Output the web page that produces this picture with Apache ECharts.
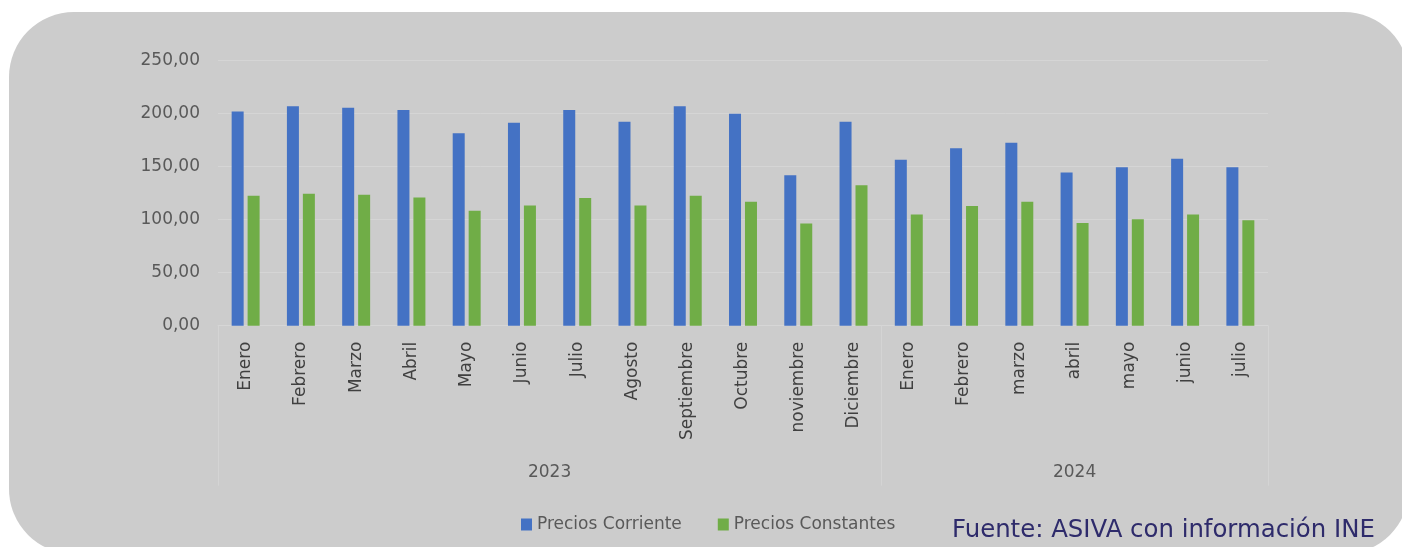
<!DOCTYPE html>
<html>
<head>
<meta charset="utf-8">
<script src="https://cdn.jsdelivr.net/npm/echarts@6/dist/echarts.min.js"></script>
<style>
  html, body { margin: 0; padding: 0; background: #ffffff; }
  #card { position: absolute; left: 9px; top: 12px; width: 1400px; height: 542px; border-radius: 65px; background: #cccccc; }
  #chart { position: absolute; left: 0; top: 0; width: 1402px; height: 547px; }
</style>
</head>
<body>
<div id="card"></div>
<div id="chart"></div>
<script>
const months = ['Enero','Febrero','Marzo','Abril','Mayo','Junio','Julio','Agosto','Septiembre','Octubre','noviembre','Diciembre',
                'Enero','Febrero','marzo','abril','mayo','junio','julio'];
const years = ['2023', '2024'];
const monthsPerYear = [12, 7];
const preciosCorriente = [202, 207, 205.5, 203.5, 181.5, 191.5, 203.5, 192.5, 207, 200, 142, 192.5, 156.5, 167.5, 172.5, 144.5, 149.5, 157.5, 149.5];
const preciosConstantes = [122.5, 124.5, 123.5, 121, 108.5, 113.5, 120.5, 113.5, 122.5, 117, 96.5, 132.5, 105, 113, 117, 97, 100.5, 105, 99.5];
const yTicks = [0, 50, 100, 150, 200, 250];

// year group boundaries and centres (in category units)
const bounds = [0];
monthsPerYear.forEach(n => bounds.push(bounds[bounds.length - 1] + n));
const centers = years.map((y, i) => (bounds[i] + bounds[i + 1]) / 2);

const chart = echarts.init(document.getElementById('chart'), null, { renderer: 'canvas' });
const fmt = v => v.toFixed(2).replace('.', ',');

chart.setOption({
  backgroundColor: 'transparent',
  animation: false,
  grid: { left: 218, right: 134, top: 60.7, bottom: 221.3, containLabel: false },
  legend: {
    left: 516, top: 511,
    itemWidth: 11, itemHeight: 12, itemGap: 36,
    icon: 'rect',
    textStyle: { color: '#595959', fontSize: 17, fontFamily: 'DejaVu Sans, sans-serif' },
    data: ['Precios Corriente', 'Precios Constantes']
  },
  xAxis: [
    {
      type: 'category',
      data: months,
      axisLine: { show: true, lineStyle: { color: '#d6d6d6', width: 1 } },
      axisTick: { show: false },
      axisLabel: {
        rotate: 90, interval: 0, margin: 16,
        color: '#404040', fontSize: 17,
        fontFamily: 'DejaVu Sans, sans-serif'
      }
    },
    {
      type: 'value',
      position: 'bottom',
      min: 0, max: bounds[bounds.length - 1],
      axisLine: { show: false },
      splitLine: { show: false },
      axisTick: { show: true, customValues: bounds, length: 160, lineStyle: { color: '#d4d4d4', width: 1 } },
      axisLabel: {
        customValues: centers,
        margin: 138,
        color: '#595959', fontSize: 17,
        fontFamily: 'DejaVu Sans, sans-serif',
        formatter: v => { const i = centers.indexOf(v); return i >= 0 ? years[i] : ''; }
      }
    }
  ],
  yAxis: {
    type: 'value',
    min: yTicks[0], max: yTicks[yTicks.length - 1], interval: 50,
    axisLine: { show: false },
    axisTick: { show: false },
    splitLine: { lineStyle: { color: '#d5d5d5', width: 1 } },
    axisLabel: {
      margin: 18, color: '#595959', fontSize: 17,
      fontFamily: 'DejaVu Sans, sans-serif',
      formatter: fmt
    }
  },
  series: [
    {
      name: 'Precios Corriente', type: 'bar', xAxisIndex: 0,
      data: preciosCorriente, barWidth: 12, barGap: '33%',
      itemStyle: { color: '#4472c4' }
    },
    {
      name: 'Precios Constantes', type: 'bar', xAxisIndex: 0,
      data: preciosConstantes, barWidth: 12, barGap: '33%',
      itemStyle: { color: '#70ad47' }
    }
  ],
  graphic: [
    {
      type: 'text', left: 952, top: 519,
      style: {
        text: 'Fuente: ASIVA con información INE',
        fill: '#2e2b6b', fontSize: 24.4,
        fontFamily: 'DejaVu Sans, sans-serif'
      }
    }
  ]
});
</script>
</body>
</html>
